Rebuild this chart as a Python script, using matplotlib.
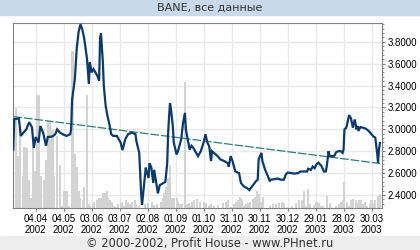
import matplotlib
matplotlib.use("Agg")
import matplotlib.pyplot as plt
from matplotlib.patches import Rectangle
from matplotlib.ticker import MultipleLocator, FormatStrFormatter
import pandas as pd

# dias contados a partir de 11.03.2002
INICIO = "2002-03-11"

price_day = [0, 1, 6, 8, 10, 14, 17, 20, 22, 24, 27, 29, 32, 35, 37, 42, 45, 47, 50, 53,
             57, 61, 62, 63, 66, 68, 70, 72, 74, 76, 79, 81, 82, 84, 86, 90, 92, 93, 94, 96,
             97, 99, 101, 103, 105, 107, 111, 115, 117, 120, 123, 127, 131, 132, 135, 136, 137, 138, 140, 142,
             143, 145, 146, 148, 150, 151, 153, 155, 157, 163, 165, 166, 167, 168, 169, 171, 172, 175, 177, 180,
             182, 184, 185, 187, 189, 191, 193, 196, 198, 201, 204, 206, 208, 210, 212, 213, 215, 219, 222, 226,
             230, 231, 233, 235, 238, 242, 244, 247, 251, 253, 256, 260, 262, 263, 266, 267, 270, 273, 275, 276,
             280, 283, 287, 290, 292, 294, 298, 301, 305, 308, 312, 315, 316, 319, 321, 323, 325, 327, 330, 333,
             335, 336, 338, 339, 343, 344, 346, 348, 351, 353, 354, 355, 357, 359, 360, 362, 364, 366, 368, 369,
             370, 372, 375, 378, 381, 384, 386, 388, 390, 391, 392, 393]
price = [2.816, 3.092, 3.10, 2.94, 2.96, 3.00, 3.065, 3.02, 2.83, 2.93, 2.88, 3.03, 2.97, 2.85, 2.93, 2.935, 2.955, 3.00, 2.97, 2.955,
         2.94, 2.955, 3.00, 3.27, 3.46, 3.74, 3.89, 3.96, 3.91, 3.83, 3.645, 3.415, 3.615, 3.52, 3.55, 3.49, 3.445, 3.83, 3.875, 3.615,
         3.40, 3.215, 3.12, 3.045, 2.955, 2.94, 2.94, 2.88, 2.81, 2.91, 2.955, 2.97, 2.955, 2.89, 2.785, 2.60, 2.42, 2.31, 2.48, 2.65,
         2.615, 2.555, 2.69, 2.65, 2.51, 2.63, 2.525, 2.415, 2.49, 2.52, 2.69, 2.97, 3.12, 3.24, 3.185, 3.03, 2.88, 2.77, 2.815, 2.91,
         3.06, 3.15, 3.00, 2.91, 2.815, 2.85, 2.83, 2.785, 2.755, 2.80, 2.88, 2.955, 2.88, 2.845, 2.71, 2.80, 2.785, 2.755, 2.725, 2.71,
         2.69, 2.66, 2.755, 2.71, 2.615, 2.60, 2.51, 2.48, 2.46, 2.445, 2.48, 2.525, 2.54, 2.725, 2.785, 2.71, 2.63, 2.57, 2.525, 2.54,
         2.545, 2.55, 2.54, 2.54, 2.585, 2.605, 2.60, 2.595, 2.60, 2.615, 2.615, 2.615, 2.64, 2.63, 2.66, 2.645, 2.68, 2.695, 2.67, 2.615,
         2.615, 2.66, 2.80, 2.755, 2.755, 2.755, 2.79, 2.80, 2.80, 2.785, 2.815, 3.00, 3.015, 3.09, 3.13, 3.10, 3.015, 3.09, 3.00, 3.03,
         2.985, 3.02, 3.015, 3.005, 2.985, 2.955, 2.935, 2.925, 2.785, 2.695, 2.815, 2.875]

# volume em % da altura do painel
vol_day = [0, 3, 5, 7, 10, 12, 15, 17, 19, 21, 23, 25, 28, 30, 33, 35, 37, 39, 42, 44,
           47, 50, 52, 54, 56, 58, 60, 63, 64, 66, 68, 70, 72, 75, 76, 79, 81, 82, 85, 87,
           90, 92, 94, 96, 98, 100, 102, 104, 106, 108, 110, 112, 115, 117, 119, 121, 123, 125, 127, 130,
           131, 135, 141, 144, 149, 151, 154, 158, 160, 162, 164, 166, 168, 170, 172, 175, 177, 179, 181, 184,
           186, 188, 190, 192, 194, 197, 200, 204, 207, 210, 212, 215, 219, 225, 228, 230, 233, 237, 239, 241,
           243, 245, 247, 250, 252, 254, 257, 259, 261, 263, 265, 268, 275, 278, 282, 285, 288, 290, 294, 299,
           303, 306, 309, 312, 314, 316, 318, 322, 325, 328, 330, 332, 336, 339, 341, 346, 349, 351, 353, 355,
           358, 360, 362, 364, 367, 369, 371, 373, 375, 377, 379, 382, 384, 386, 388, 391, 393]
volume = [105, 54, 28, 43, 17, 33, 32, 15, 5, 34, 20, 61, 61, 17, 15, 26, 47, 47, 42, 17,
          39, 23, 1, 9, 9, 9, 1, 85, 85, 29, 22, 9, 5, 4, 11, 61, 2, 1, 2, 3,
          4, 5, 5, 8, 8, 9, 5, 4, 3, 1, 0.5, 2, 2.3, 3, 1, 4, 3, 2, 3, 4,
          2, 1, 2, 2.3, 3, 1.6, 2, 3, 5, 8, 11, 16, 23, 5, 5, 5, 3, 2, 2, 68,
          2, 2.3, 1, 3, 4, 4.5, 3, 3, 2.3, 1, 2, 1, 1.6, 2.3, 3, 4, 0.5, 2, 3, 4,
          5.6, 4.7, 1, 2, 2.3, 3, 4.7, 5.6, 9, 7.5, 3, 5.6, 1, 2, 2, 2.3, 3, 2.3, 0.5, 1,
          2.3, 4, 4, 9, 1, 10, 2, 1.6, 3, 2.3, 1, 1, 6.5, 2.3, 0.5, 1, 2, 3, 4, 14,
          3, 1, 4, 4.7, 4, 2.3, 4, 4, 2, 3, 1, 2, 4, 2.3, 4, 6.5, 7.5]

# linha de tendencia (inicio e fim)
trend_day = [0, 394]
trend = [3.117, 2.687]

tick_dates = ["2002-04-04", "2002-05-04", "2002-06-03", "2002-07-03", "2002-08-02", "2002-09-01",
              "2002-10-01", "2002-10-31", "2002-11-30", "2002-12-30", "2003-01-29", "2003-02-28",
              "2003-03-30"]
y_ticks = [2.4, 2.6, 2.8, 3.0, 3.2, 3.4, 3.6, 3.8]

inicio = pd.Timestamp(INICIO)
datas = inicio + pd.to_timedelta(price_day, unit="D")
datas_vol = inicio + pd.to_timedelta(vol_day, unit="D")
datas_trend = inicio + pd.to_timedelta(trend_day, unit="D")
ticks = pd.to_datetime(tick_dates)

plt.rcParams["font.family"] = ["Liberation Sans", "DejaVu Sans"]

fig = plt.figure(figsize=(4.2, 2.5), dpi=100)
fig.patches.append(Rectangle((0, 0.94), 1, 0.06, transform=fig.transFigure,
                             color="#c8d9ea", zorder=0))
fig.patches.append(Rectangle((0, 0), 1, 0.056, transform=fig.transFigure,
                             color="#ededed", zorder=0))
fig.text(0.5, 0.968, "BANE, все данные", ha="center", va="center",
         fontsize=8, color="#333333", family="DejaVu Sans")
fig.text(0.5, 0.027, "© 2000-2002, Profit House - www.PHnet.ru", ha="center", va="center",
         fontsize=8.3, color="#333333", family="DejaVu Sans")

ax = fig.add_axes([0.031, 0.17, 0.878, 0.738])

# volume: x em datas, y em fracao do eixo
ax.bar(datas_vol, [v / 100 for v in volume], width=2.2, bottom=0,
       color="#d3d3d3", transform=ax.get_xaxis_transform(), zorder=1)
ax.plot(datas_trend, trend, color="#2f7f7a", lw=0.9, dashes=(7, 1.5), zorder=2)
ax.plot(datas, price, color="#0b3a6b", lw=1.6, zorder=3, solid_joinstyle="miter")

ax.set_xlim(inicio - pd.Timedelta(days=0.3), inicio + pd.Timedelta(days=395))
ax.set_ylim(2.286, 3.971)
ax.set_xticks(ticks)
ax.set_xticklabels([d.strftime("%d.%m\n%Y") for d in ticks])
ax.set_yticks(y_ticks)
ax.yaxis.set_major_formatter(FormatStrFormatter("%.4f"))
ax.yaxis.set_minor_locator(MultipleLocator(0.04))
ax.yaxis.tick_right()

ax.grid(True, color="#e9e9e9", lw=1)
ax.set_axisbelow(True)
for s in ax.spines.values():
    s.set_color("#808080")
ax.tick_params(axis="x", length=2.5, width=0.8, color="#808080", pad=2, labelsize=7,
               labelcolor="black")
ax.tick_params(axis="y", which="major", length=2.5, width=0.8, color="#808080", pad=2,
               labelsize=7, labelcolor="black")
ax.tick_params(axis="y", which="minor", length=1.5, width=0.6, color="#808080")
ax.tick_params(axis="x", which="minor", bottom=False)

fig.savefig("out.png", dpi=100)
